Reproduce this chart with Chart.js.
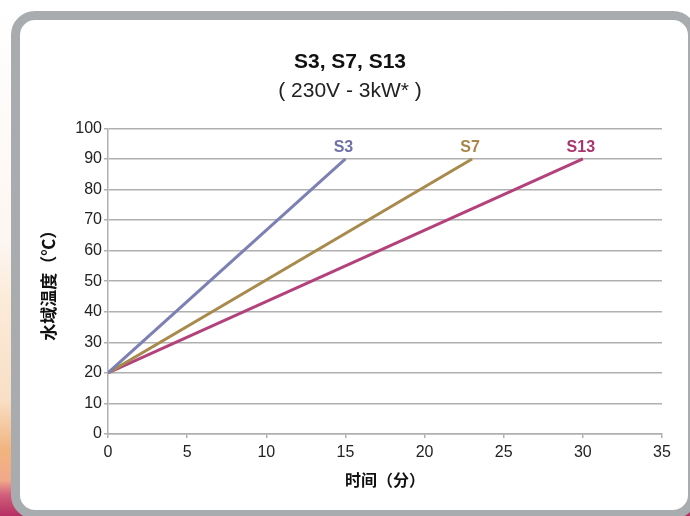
<!DOCTYPE html>
<html>
<head>
<meta charset="utf-8">
<script src="https://cdn.jsdelivr.net/npm/chart.js@4.4.1/dist/chart.umd.min.js"></script>
<style>
  html, body { margin: 0; padding: 0; }
  body {
    width: 690px; height: 516px; overflow: hidden; position: relative;
    background: linear-gradient(to bottom, #ffffff 0px, #fdf6f2 240px, #fcebd9 300px,
      #f8dfc6 400px, #f1b47f 450px, #f2a98a 480px, #d15e7c 495px, #b52f62 516px);
  }
  #panel {
    position: absolute; left: 11px; top: 11px; width: 668px; height: 490px;
    border: 9px solid #a8acae; border-radius: 24px; background: #fff;
  }
  #c { position: absolute; left: 20px; top: 0; }
</style>
</head>
<body>
<div id="panel"></div>
<canvas id="c" width="670" height="516"></canvas>
<script>
var title = 'S3, S7, S13'
var subtitle = '( 230V - 3kW* )'
var xTitle = '时间（分）'
var yTitle = '水域温度（℃）'

var seriesNames = ['S3', 'S7', 'S13']
var s3Time = [0, 15]
var s3Temp = [20, 90]
var s7Time = [0, 23]
var s7Temp = [20, 90]
var s13Time = [0, 30]
var s13Temp = [20, 90]
var lineColors = ['#7d80b3', '#a88a4c', '#b3417b']
var labelColors = ['#6f70a8', '#a8874a', '#a9356e']

function points(xs, ys) {
  return xs.map(function(x, i) { return {x: x, y: ys[i]} })
}

// writes the series name just above the last point of each line
var endLabels = {
  id: 'endLabels',
  afterDatasetsDraw: function(chart) {
    var ctx = chart.ctx
    ctx.save()
    ctx.font = 'bold 16px "Liberation Sans", Arial, sans-serif'
    ctx.textAlign = 'center'
    ctx.textBaseline = 'alphabetic'
    chart.data.datasets.forEach(function(ds, i) {
      var meta = chart.getDatasetMeta(i)
      var last = meta.data[meta.data.length - 1]
      ctx.fillStyle = labelColors[i]
      ctx.fillText(ds.label, last.x - 2, last.y - 7)
    })
    ctx.restore()
  }
}

Chart.defaults.font.family = '"Liberation Sans", Arial, sans-serif'
Chart.defaults.color = '#222'

var cjk = '"Noto Sans CJK SC", sans-serif'

new Chart(document.getElementById('c').getContext('2d'), {
  type: 'line',
  data: {
    datasets: [
      {label: seriesNames[0], data: points(s3Time, s3Temp)},
      {label: seriesNames[1], data: points(s7Time, s7Temp)},
      {label: seriesNames[2], data: points(s13Time, s13Temp)},
    ].map(function(ds, i) {
      ds.borderColor = lineColors[i]
      ds.backgroundColor = lineColors[i]
      ds.borderWidth = 3
      ds.pointRadius = 0
      ds.tension = 0
      ds.fill = false
      return ds
    }),
  },
  options: {
    responsive: false,
    animation: false,
    layout: {padding: {left: 18, right: 28, top: 0, bottom: 22}},
    plugins: {
      legend: {display: false},
      tooltip: {enabled: false},
      title: {
        display: true,
        text: title,
        color: '#111',
        font: {size: 21, weight: 'bold'},
        padding: {top: 50, bottom: 3},
      },
      subtitle: {
        display: true,
        text: subtitle,
        color: '#222',
        font: {size: 21, weight: 'normal'},
        padding: {top: 0, bottom: 25},
      },
    },
    scales: {
      x: {
        type: 'linear',
        min: 0,
        max: 35,
        ticks: {stepSize: 5, padding: 5, font: {size: 16}, color: '#222'},
        grid: {color: 'rgba(0,0,0,0)', tickColor: '#b0b0b0', tickLength: 4, lineWidth: 1.5},
        border: {color: '#b0b0b0', width: 1.5},
        title: {display: true, text: xTitle, color: '#111', font: {family: cjk, size: 16, weight: 'bold'}, padding: {top: 0, bottom: 4}},
        afterFit: function(scale) { scale.height = 60 },
      },
      y: {
        min: 0,
        max: 100,
        ticks: {stepSize: 10, padding: 2, font: {size: 16}, color: '#222'},
        grid: {color: '#b0b0b0', tickColor: '#b0b0b0', tickLength: 4, lineWidth: 1.5},
        border: {color: '#b0b0b0', width: 1.5},
        title: {display: true, text: yTitle, color: '#111', font: {family: cjk, size: 17, weight: 'bold'}, padding: {top: 0, bottom: 0}},
        afterFit: function(scale) { scale.width = 70 },
      },
    },
  },
  plugins: [endLabels],
})
</script>
</body>
</html>
